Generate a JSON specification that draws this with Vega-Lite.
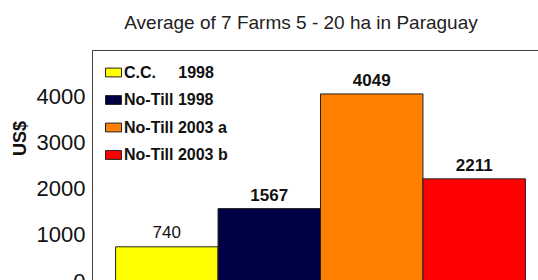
{
  "$schema": "https://vega.github.io/schema/vega-lite/v6.json",
  "usermeta": {"embedOptions": {"actions": false}},
  "width": 446,
  "height": 230,
  "autosize": {"type": "none"},
  "padding": {"left": 92, "top": 50, "right": 0, "bottom": 0},
  "background": "white",
  "config": {"view": {"stroke": null}, "font": "Liberation Sans"},
  "title": {
    "text": "Average of 7 Farms 5 - 20 ha in Paraguay",
    "fontSize": 19,
    "fontWeight": "normal",
    "color": "#222222",
    "anchor": "middle",
    "frame": "group",
    "baseline": "alphabetic",
    "offset": 19,
    "dx": -14,
    "dy": 17
  },
  "data": {
    "values": [
      {"series": "C.C.\u00a0\u00a0\u00a0\u00a0\u00a01998", "value": 740},
      {"series": "No-Till 1998", "value": 1567},
      {"series": "No-Till 2003 a", "value": 4049},
      {"series": "No-Till 2003 b", "value": 2211}
    ]
  },
  "encoding": {
    "x": {
      "field": "series",
      "type": "nominal",
      "sort": null,
      "scale": {"range": [0, 457], "paddingInner": 0, "paddingOuter": 0.23},
      "axis": {"orient": "top", "labels": false, "ticks": false, "title": null, "domainColor": "#404040", "domainWidth": 1, "grid": false}
    },
    "y": {
      "field": "value",
      "type": "quantitative",
      "scale": {"domain": [0, 5000], "range": [231, 0], "nice": false},
      "axis": {
        "values": [0, 1000, 2000, 3000, 4000],
        "format": "d",
        "ticks": false,
        "grid": false,
        "domainColor": "#404040",
        "labelFontSize": 22,
        "labelColor": "#111111",
        "labelPadding": 7,
        "title": "US$",
        "titleFontSize": 18,
        "titleFontWeight": "bold",
        "titleColor": "#111111",
        "titleAngle": 270,
        "titleX": -72,
        "titleY": 88,
        "titleAlign": "center",
        "titleBaseline": "middle"
      }
    }
  },
  "layer": [
    {
      "mark": {"type": "bar", "stroke": "#222222", "strokeWidth": 1},
      "encoding": {
        "color": {
          "field": "series",
          "type": "nominal",
          "sort": null,
          "scale": {
            "domain": ["C.C.\u00a0\u00a0\u00a0\u00a0\u00a01998", "No-Till 1998", "No-Till 2003 a", "No-Till 2003 b"],
            "range": ["#FFFF00", "#000044", "#FF8000", "#FF0000"]
          },
          "legend": {
            "title": null,
            "orient": "none",
            "legendX": 13,
            "legendY": 14,
            "padding": 0,
            "symbolType": "M-1,-0.55H1V0.55H-1Z",
            "symbolSize": 256,
            "symbolStrokeColor": "#222222",
            "symbolStrokeWidth": 1,
            "symbolOpacity": 1,
            "labelFontSize": 16,
            "labelFontWeight": "bold",
            "labelColor": "#111111",
            "labelOffset": 2,
            "rowPadding": 10.5
          }
        }
      }
    },
    {
      "transform": [{"filter": "datum.value != 740"}],
      "mark": {"type": "text", "dy": -8, "baseline": "alphabetic", "fontWeight": "bold", "fontSize": 17, "color": "#111111"},
      "encoding": {"text": {"field": "value", "type": "quantitative", "format": "d"}}
    },
    {
      "transform": [{"filter": "datum.value == 740"}],
      "mark": {"type": "text", "dy": -9, "baseline": "alphabetic", "fontWeight": "normal", "fontSize": 17, "color": "#111111"},
      "encoding": {"text": {"field": "value", "type": "quantitative", "format": "d"}}
    }
  ]
}
